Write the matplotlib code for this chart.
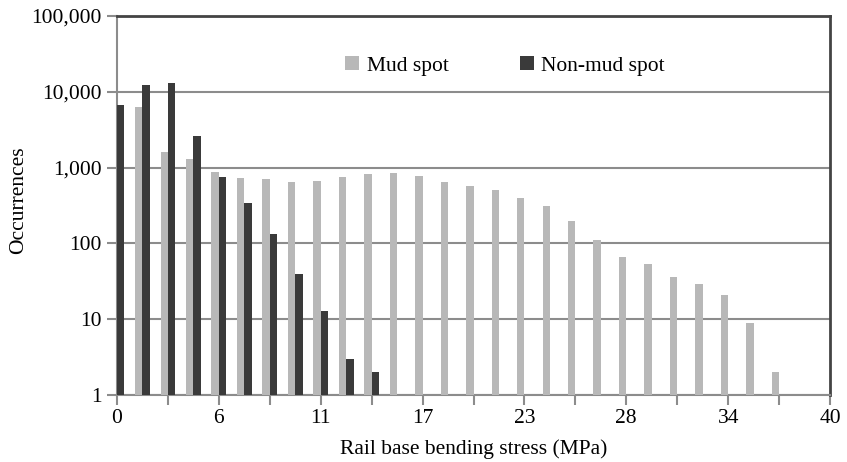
import numpy as np
import matplotlib
matplotlib.use("Agg")
import matplotlib.pyplot as plt
from matplotlib.patches import Patch
from matplotlib.ticker import FixedLocator, FuncFormatter, NullFormatter

# ---- data ----
groups = list(range(28))
mud = [np.nan, 6340, 1590, 1290, 865, 736, 707, 651, 666, 752,
       824, 840, 783, 651, 572, 502, 398, 310, 198, 111,
       66, 53, 36, 29, 21, 9, 2, np.nan]
nonmud = [6700, 12400, 12900, 2610, 757, 344, 132, 40, 13, 3,
          2] + [np.nan] * 17
xtick_labels = ["0", "6", "11", "17", "23", "28", "34", "40"]
ylabel = "Occurrences"
xlabel = "Rail base bending stress (MPa)"
series_names = ["Mud spot", "Non-mud spot"]

# ---- style ----
plt.rcParams['font.family'] = ['Liberation Serif', 'DejaVu Serif']
fs = 15.5
mud_c = "#b8b8b8"
non_c = "#3a3a3a"
grid_c = "#8c8c8c"

fig = plt.figure(figsize=(8.47, 4.62), dpi=100)
ax = fig.add_axes([117/847, 1-395/462, (830-117)/847, (395-16)/462])

x = np.array(groups, dtype=float)
w = 0.29
ax.bar(x - w/2, mud, width=w, color=mud_c, zorder=3)
ax.bar(x + w/2, nonmud, width=w, color=non_c, zorder=3)

ax.set_yscale('log')
ax.set_ylim(1, 100000)
ax.set_xlim(0, 28)

ax.yaxis.set_major_locator(FixedLocator([1, 10, 100, 1000, 10000, 100000]))
ax.yaxis.set_minor_locator(FixedLocator([]))
ax.yaxis.set_major_formatter(FuncFormatter(lambda v, p: f"{int(round(v)):,}"))
ax.grid(axis='y', color=grid_c, linewidth=1.5, zorder=0)

ax.xaxis.set_major_locator(FixedLocator(np.arange(0, 29, 4)))
ax.xaxis.set_minor_locator(FixedLocator(np.arange(2, 28, 4)))
ax.set_xticklabels(xtick_labels)
ax.xaxis.set_minor_formatter(NullFormatter())

ax.tick_params(axis='both', which='both', length=7, width=1.5, color=grid_c,
               labelsize=fs, direction='out', pad=4)
ax.tick_params(axis='x', which='both', pad=3)

for s in ['left', 'bottom']:
    ax.spines[s].set_color(grid_c)
    ax.spines[s].set_linewidth(1.5)
for s in ['top', 'right']:
    ax.spines[s].set_color("#444444")
    ax.spines[s].set_linewidth(2)

ax.set_ylabel(ylabel, fontsize=fs)
ax.yaxis.set_label_coords((28 - 117) / 713, 1 - (200 - 16) / 379)
ax.set_xlabel(xlabel, fontsize=fs, labelpad=8)

handles = [Patch(facecolor=mud_c), Patch(facecolor=non_c)]
leg = ax.legend(handles, series_names, ncol=2, frameon=False, fontsize=fs,
                loc='center', bbox_to_anchor=((505 - 117) / 713, 1 - (66 - 16) / 379),
                handlelength=0.65, handleheight=0.65, handletextpad=0.35,
                columnspacing=3.3)

fig.savefig("out.png", dpi=100)
